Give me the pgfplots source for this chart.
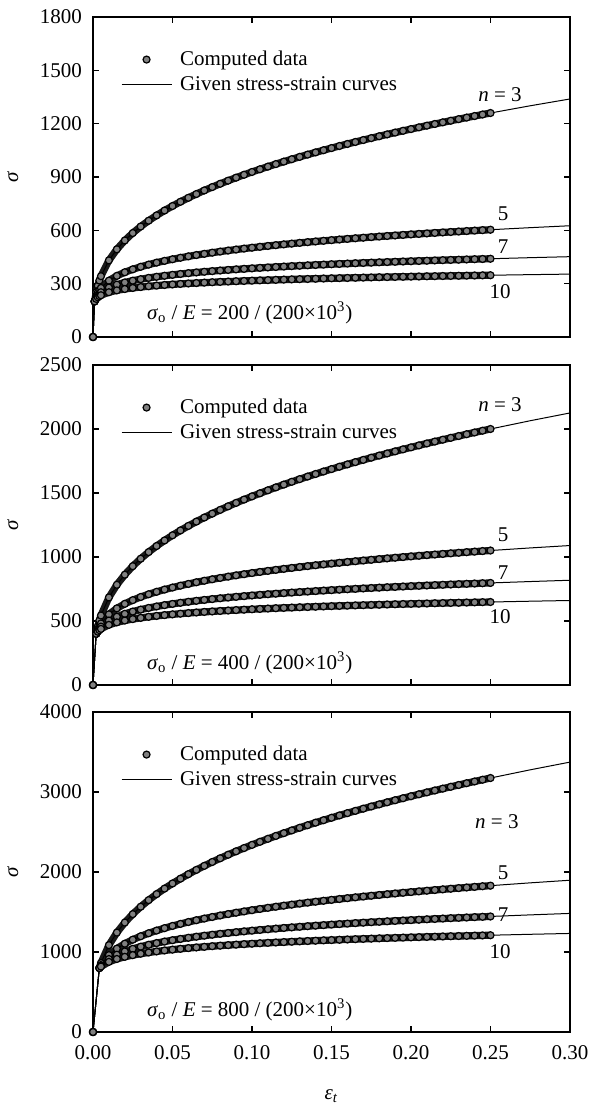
\documentclass[border=0pt]{standalone}
\usepackage{fontspec}
\setmainfont{Liberation Serif}
\usepackage{pgfplots}
\usepackage{pgfplotstable}
\pgfplotsset{compat=1.18}
\newcommand\f{\fontsize{10.5}{12.6}\selectfont}

\pgfplotstableread{
e s3 s5 s7 s10
0 0 0 0 0
0.001 200 200 200 200
0.002 252.0 229.7 220.8 214.4
0.003 288.4 249.1 234.0 223.2
0.004 317.5 263.9 243.8 229.7
0.005 342.0 275.9 251.7 234.9
0.010 430.9 317.0 277.9 251.8
0.015 493.2 343.8 294.5 262.2
0.020 542.9 364.1 306.8 269.9
0.025 584.8 380.7 316.8 275.9
0.030 621.4 394.9 325.1 281.0
0.035 654.2 407.2 332.4 285.4
0.040 684.0 418.3 338.8 289.2
0.045 711.4 428.2 344.5 292.6
0.050 736.8 437.3 349.7 295.7
0.055 760.6 445.8 354.5 298.6
0.060 783.0 453.6 359.0 301.2
0.065 804.1 460.9 363.1 303.6
0.070 824.3 467.8 367.0 305.9
0.075 843.4 474.3 370.6 308.0
0.080 861.8 480.5 374.0 310.0
0.085 879.4 486.3 377.3 311.9
0.090 896.3 491.9 380.4 313.6
0.095 912.6 497.3 383.3 315.3
0.100 928.3 502.4 386.1 317.0
0.105 943.5 507.3 388.8 318.5
0.110 958.3 512.1 391.4 320.0
0.115 972.6 516.6 393.9 321.4
0.120 986.5 521.0 396.3 322.8
0.125 1000.0 525.3 398.7 324.1
0.130 1013.2 529.5 400.9 325.4
0.135 1026.0 533.5 403.1 326.6
0.140 1038.5 537.4 405.2 327.8
0.145 1050.7 541.1 407.2 329.0
0.150 1062.7 544.8 409.2 330.1
0.155 1074.4 548.4 411.1 331.2
0.160 1085.8 551.9 413.0 332.2
0.165 1097.0 555.3 414.8 333.3
0.170 1107.9 558.6 416.6 334.2
0.175 1118.7 561.9 418.3 335.2
0.180 1129.2 565.1 420.0 336.2
0.185 1139.6 568.2 421.6 337.1
0.190 1149.8 571.2 423.2 338.0
0.195 1159.8 574.2 424.8 338.9
0.200 1169.6 577.1 426.3 339.7
0.205 1179.3 579.9 427.8 340.6
0.210 1188.8 582.7 429.3 341.4
0.215 1198.2 585.5 430.8 342.2
0.220 1207.4 588.2 432.2 343.0
0.225 1216.5 590.8 433.6 343.8
0.230 1225.4 593.4 434.9 344.5
0.235 1234.2 596.0 436.3 345.2
0.240 1242.9 598.5 437.6 346.0
0.245 1251.5 601.0 438.9 346.7
0.250 1259.9 603.4 440.1 347.4
0.275 1300.6 615.0 446.2 350.7
0.300 1338.9 625.8 451.8 353.8
}\tA

\pgfplotstableread{
e s3 s5 s7 s10
0 0 0 0 0
0.002 400 400 400 400
0.003 457.9 433.8 423.9 416.6
0.004 504.0 459.5 441.6 428.7
0.005 542.9 480.5 455.9 438.4
0.010 684.0 551.9 503.4 469.8
0.015 782.9 598.5 533.4 489.3
0.020 861.8 634.0 555.8 503.6
0.025 928.3 662.9 573.8 514.9
0.030 986.5 687.5 588.9 524.4
0.035 1038.5 709.0 602.1 532.6
0.040 1085.8 728.2 613.6 539.7
0.045 1129.2 745.6 624.1 546.1
0.050 1169.6 761.5 633.5 551.9
0.055 1207.4 776.1 642.2 557.2
0.060 1242.9 789.7 650.2 562.0
0.065 1276.5 802.5 657.7 566.6
0.070 1308.4 814.5 664.7 570.8
0.075 1338.9 825.8 671.3 574.7
0.080 1368.0 836.5 677.5 578.4
0.085 1395.9 846.7 683.4 582.0
0.090 1422.7 856.5 689.0 585.3
0.095 1448.6 865.8 694.4 588.5
0.100 1473.6 874.7 699.5 591.5
0.105 1497.7 883.3 704.4 594.4
0.110 1521.1 891.5 709.1 597.2
0.115 1543.9 899.5 713.6 599.8
0.120 1565.9 907.2 717.9 602.4
0.125 1587.4 914.6 722.1 604.8
0.130 1608.3 921.8 726.2 607.2
0.135 1628.6 928.8 730.1 609.5
0.140 1648.5 935.6 733.9 611.7
0.145 1667.9 942.2 737.6 613.9
0.150 1686.8 948.6 741.2 616.0
0.155 1705.4 954.8 744.7 618.0
0.160 1723.5 960.9 748.0 620.0
0.165 1741.3 966.8 751.3 621.9
0.170 1758.7 972.6 754.5 623.7
0.175 1775.8 978.3 757.7 625.5
0.180 1792.5 983.8 760.7 627.3
0.185 1809.0 989.2 763.7 629.0
0.190 1825.2 994.5 766.6 630.7
0.195 1841.0 999.7 769.5 632.4
0.200 1856.6 1004.8 772.3 633.9
0.205 1872.0 1009.7 775.0 635.5
0.210 1887.1 1014.6 777.7 637.0
0.215 1901.9 1019.4 780.3 638.6
0.220 1916.5 1024.1 782.9 640.0
0.225 1931.0 1028.7 785.4 641.5
0.230 1945.1 1033.2 787.9 642.9
0.235 1959.2 1037.7 790.3 644.3
0.240 1972.9 1042.1 792.7 645.6
0.245 1986.6 1046.4 795.0 647.0
0.250 2000.0 1050.6 797.3 648.3
0.275 2064.6 1070.8 808.2 654.5
0.300 2125.3 1089.6 818.3 660.2
}\tB

\pgfplotstableread{
e s3 s5 s7 s10
0 0 0 0 0
0.004 800 800 800 800
0.005 861.8 836.5 825.9 818.1
0.010 1085.7 960.9 911.9 876.8
0.015 1242.8 1042.1 966.3 913.0
0.020 1368.0 1103.8 1006.8 939.7
0.025 1473.6 1154.2 1039.4 960.9
0.030 1565.9 1197.0 1066.8 978.6
0.035 1648.5 1234.5 1090.6 993.8
0.040 1723.5 1267.9 1111.6 1007.1
0.045 1792.6 1298.1 1130.5 1019.1
0.050 1856.6 1325.8 1147.6 1029.9
0.055 1916.6 1351.3 1163.3 1039.7
0.060 1972.9 1375.0 1177.9 1048.8
0.065 2026.3 1397.2 1191.4 1057.2
0.070 2076.9 1418.1 1204.1 1065.1
0.075 2125.3 1437.8 1216.0 1072.5
0.080 2171.5 1456.4 1227.3 1079.4
0.085 2215.9 1474.2 1238.0 1086.0
0.090 2258.4 1491.2 1248.1 1092.2
0.095 2299.5 1507.4 1257.8 1098.1
0.100 2339.2 1522.9 1267.0 1103.8
0.105 2377.5 1537.9 1275.9 1109.2
0.110 2414.7 1552.2 1284.4 1114.4
0.115 2450.8 1566.1 1292.6 1119.3
0.120 2485.8 1579.5 1300.5 1124.1
0.125 2519.8 1592.4 1308.1 1128.7
0.130 2553.0 1605.0 1315.4 1133.1
0.135 2585.3 1617.1 1322.6 1137.4
0.140 2616.9 1628.9 1329.4 1141.6
0.145 2647.6 1640.4 1336.1 1145.6
0.150 2677.7 1651.6 1342.6 1149.5
0.155 2707.2 1662.4 1348.9 1153.2
0.160 2736.0 1673.0 1355.0 1156.9
0.165 2764.1 1683.4 1361.0 1160.5
0.170 2791.8 1693.4 1366.8 1163.9
0.175 2818.9 1703.3 1372.5 1167.3
0.180 2845.5 1712.9 1378.0 1170.6
0.185 2871.6 1722.3 1383.4 1173.8
0.190 2897.3 1731.5 1388.7 1176.9
0.195 2922.4 1740.5 1393.9 1180.0
0.200 2947.3 1749.4 1398.9 1183.0
0.205 2971.6 1758.0 1403.9 1185.9
0.210 2995.5 1766.5 1408.7 1188.8
0.215 3019.1 1774.9 1413.5 1191.6
0.220 3042.3 1783.0 1418.1 1194.3
0.225 3065.2 1791.1 1422.7 1197.0
0.230 3087.7 1798.9 1427.2 1199.6
0.235 3110.0 1806.7 1431.5 1202.2
0.240 3131.8 1814.3 1435.9 1204.8
0.245 3153.5 1821.8 1440.1 1207.3
0.250 3174.8 1829.2 1444.3 1209.7
0.275 3277.3 1864.4 1464.0 1221.3
0.300 3373.7 1897.2 1482.4 1231.9
}\tC

\pgfplotsset{
  panel/.style={
    scale only axis, width=238.5pt, height=160pt, anchor=south west,
    xmin=0, xmax=0.3, xtick={0,0.05,0.1,0.15,0.2,0.25,0.3},
    ymin=0,
    tick align=inside, major tick length=3pt, minor tick num=0,
    axis line style={line width=0.8pt}, tick style={line width=0.6pt, black},
    scaled ticks=false,
    tick label style={font=\f},
    label style={font=\f},
    /pgf/number format/assume math mode=true,
    /pgf/number format/set thousands separator={},
    xticklabel style={yshift=-3pt, /pgf/number format/.cd, fixed, fixed zerofill, precision=2},
    yticklabel style={xshift=-2pt},
    ylabel={\textit{σ}},
    ylabel style={at={(axis description cs:-0.168,0.5)}, anchor=center},
    clip=false,
    legend style={draw=none, fill=none, inner sep=0pt, at={(axis description cs:0.058,0.905)},
      anchor=north west, font=\f, cells={anchor=west}, nodes={inner xsep=4pt, inner ysep=1.5pt}, row sep=1pt},
  },
  band/.style={black!90, line width=3.6pt, line join=round, line cap=round, no marks, forget plot,
    restrict x to domain=0:0.2501, skip coords between index={0}{1}},
  dat/.style={only marks, mark=*, mark size=1.75pt, mark options={fill=gray, draw=black, line width=0.6pt},
    restrict x to domain=0:0.2501,
    legend image code/.code={\draw[mark repeat=2,mark phase=2,##1] plot coordinates {(0pt,0pt) (12.5pt,0pt) (25pt,0pt)};}},
  crv/.style={black, line width=0.5pt, no marks,
    legend image code/.code={\draw[##1] (0pt,0pt) -- (25pt,0pt);}},
}

\begin{document}
\begin{tikzpicture}
\useasboundingbox (0,0) rectangle (295.5pt,555pt);

% Panel 1
\begin{axis}[panel, at={(46.5pt,386.5pt)}, ymax=1800, ytick={0,300,...,1800}, xticklabels={}]
\addplot[band] table[x=e,y=s3]{\tA};
\addplot[band] table[x=e,y=s5]{\tA};
\addplot[band] table[x=e,y=s7]{\tA};
\addplot[band] table[x=e,y=s10]{\tA};
\addplot[dat] table[x=e,y=s3]{\tA}; \addlegendentry{Computed data}
\addplot[crv] table[x=e,y=s3]{\tA}; \addlegendentry{Given stress-strain curves}
\addplot[dat, forget plot] table[x=e,y=s5]{\tA};
\addplot[dat, forget plot] table[x=e,y=s7]{\tA};
\addplot[dat, forget plot] table[x=e,y=s10]{\tA};
\addplot[crv, forget plot] table[x=e,y=s5]{\tA};
\addplot[crv, forget plot] table[x=e,y=s7]{\tA};
\addplot[crv, forget plot] table[x=e,y=s10]{\tA};
\node[font=\f] at (axis cs:0.256,1361) {\textit{n} = 3};
\node[font=\f] at (axis cs:0.258,692) {5};
\node[font=\f] at (axis cs:0.258,506) {7};
\node[font=\f] at (axis cs:0.256,253) {10};
\node[font=\f, anchor=west] at (axis description cs:0.0985,0.075) {\textit{σ}\textsubscript{o} / \textit{E} = 200 / (200×10\textsuperscript{3})};
\end{axis}

% Panel 2
\begin{axis}[panel, at={(46.5pt,212.5pt)}, ymax=2500, ytick={0,500,...,2500}, xticklabels={}]
\addplot[band] table[x=e,y=s3]{\tB};
\addplot[band] table[x=e,y=s5]{\tB};
\addplot[band] table[x=e,y=s7]{\tB};
\addplot[band] table[x=e,y=s10]{\tB};
\addplot[dat] table[x=e,y=s3]{\tB}; \addlegendentry{Computed data}
\addplot[crv] table[x=e,y=s3]{\tB}; \addlegendentry{Given stress-strain curves}
\addplot[dat, forget plot] table[x=e,y=s5]{\tB};
\addplot[dat, forget plot] table[x=e,y=s7]{\tB};
\addplot[dat, forget plot] table[x=e,y=s10]{\tB};
\addplot[crv, forget plot] table[x=e,y=s5]{\tB};
\addplot[crv, forget plot] table[x=e,y=s7]{\tB};
\addplot[crv, forget plot] table[x=e,y=s10]{\tB};
\node[font=\f] at (axis cs:0.256,2194) {\textit{n} = 3};
\node[font=\f] at (axis cs:0.258,1176) {5};
\node[font=\f] at (axis cs:0.258,878) {7};
\node[font=\f] at (axis cs:0.256,533) {10};
\node[font=\f, anchor=west] at (axis description cs:0.0985,0.07) {\textit{σ}\textsubscript{o} / \textit{E} = 400 / (200×10\textsuperscript{3})};
\end{axis}

% Panel 3
\begin{axis}[panel, at={(46.5pt,39pt)}, ymax=4000, ytick={0,1000,...,4000},
  xlabel={\textit{ε}\textsubscript{\textit{t}}},
  xlabel style={at={(axis description cs:0.5,-0.2)}, anchor=center}]
\addplot[band] table[x=e,y=s3]{\tC};
\addplot[band] table[x=e,y=s5]{\tC};
\addplot[band] table[x=e,y=s7]{\tC};
\addplot[band] table[x=e,y=s10]{\tC};
\addplot[dat] table[x=e,y=s3]{\tC}; \addlegendentry{Computed data}
\addplot[crv] table[x=e,y=s3]{\tC}; \addlegendentry{Given stress-strain curves}
\addplot[dat, forget plot] table[x=e,y=s5]{\tC};
\addplot[dat, forget plot] table[x=e,y=s7]{\tC};
\addplot[dat, forget plot] table[x=e,y=s10]{\tC};
\addplot[crv, forget plot] table[x=e,y=s5]{\tC};
\addplot[crv, forget plot] table[x=e,y=s7]{\tC};
\addplot[crv, forget plot] table[x=e,y=s10]{\tC};
\node[font=\f] at (axis cs:0.254,2633) {\textit{n} = 3};
\node[font=\f] at (axis cs:0.258,1994) {5};
\node[font=\f] at (axis cs:0.258,1467) {7};
\node[font=\f] at (axis cs:0.256,1003) {10};
\node[font=\f, anchor=west] at (axis description cs:0.0985,0.07) {\textit{σ}\textsubscript{o} / \textit{E} = 800 / (200×10\textsuperscript{3})};
\end{axis}
\end{tikzpicture}
\end{document}
